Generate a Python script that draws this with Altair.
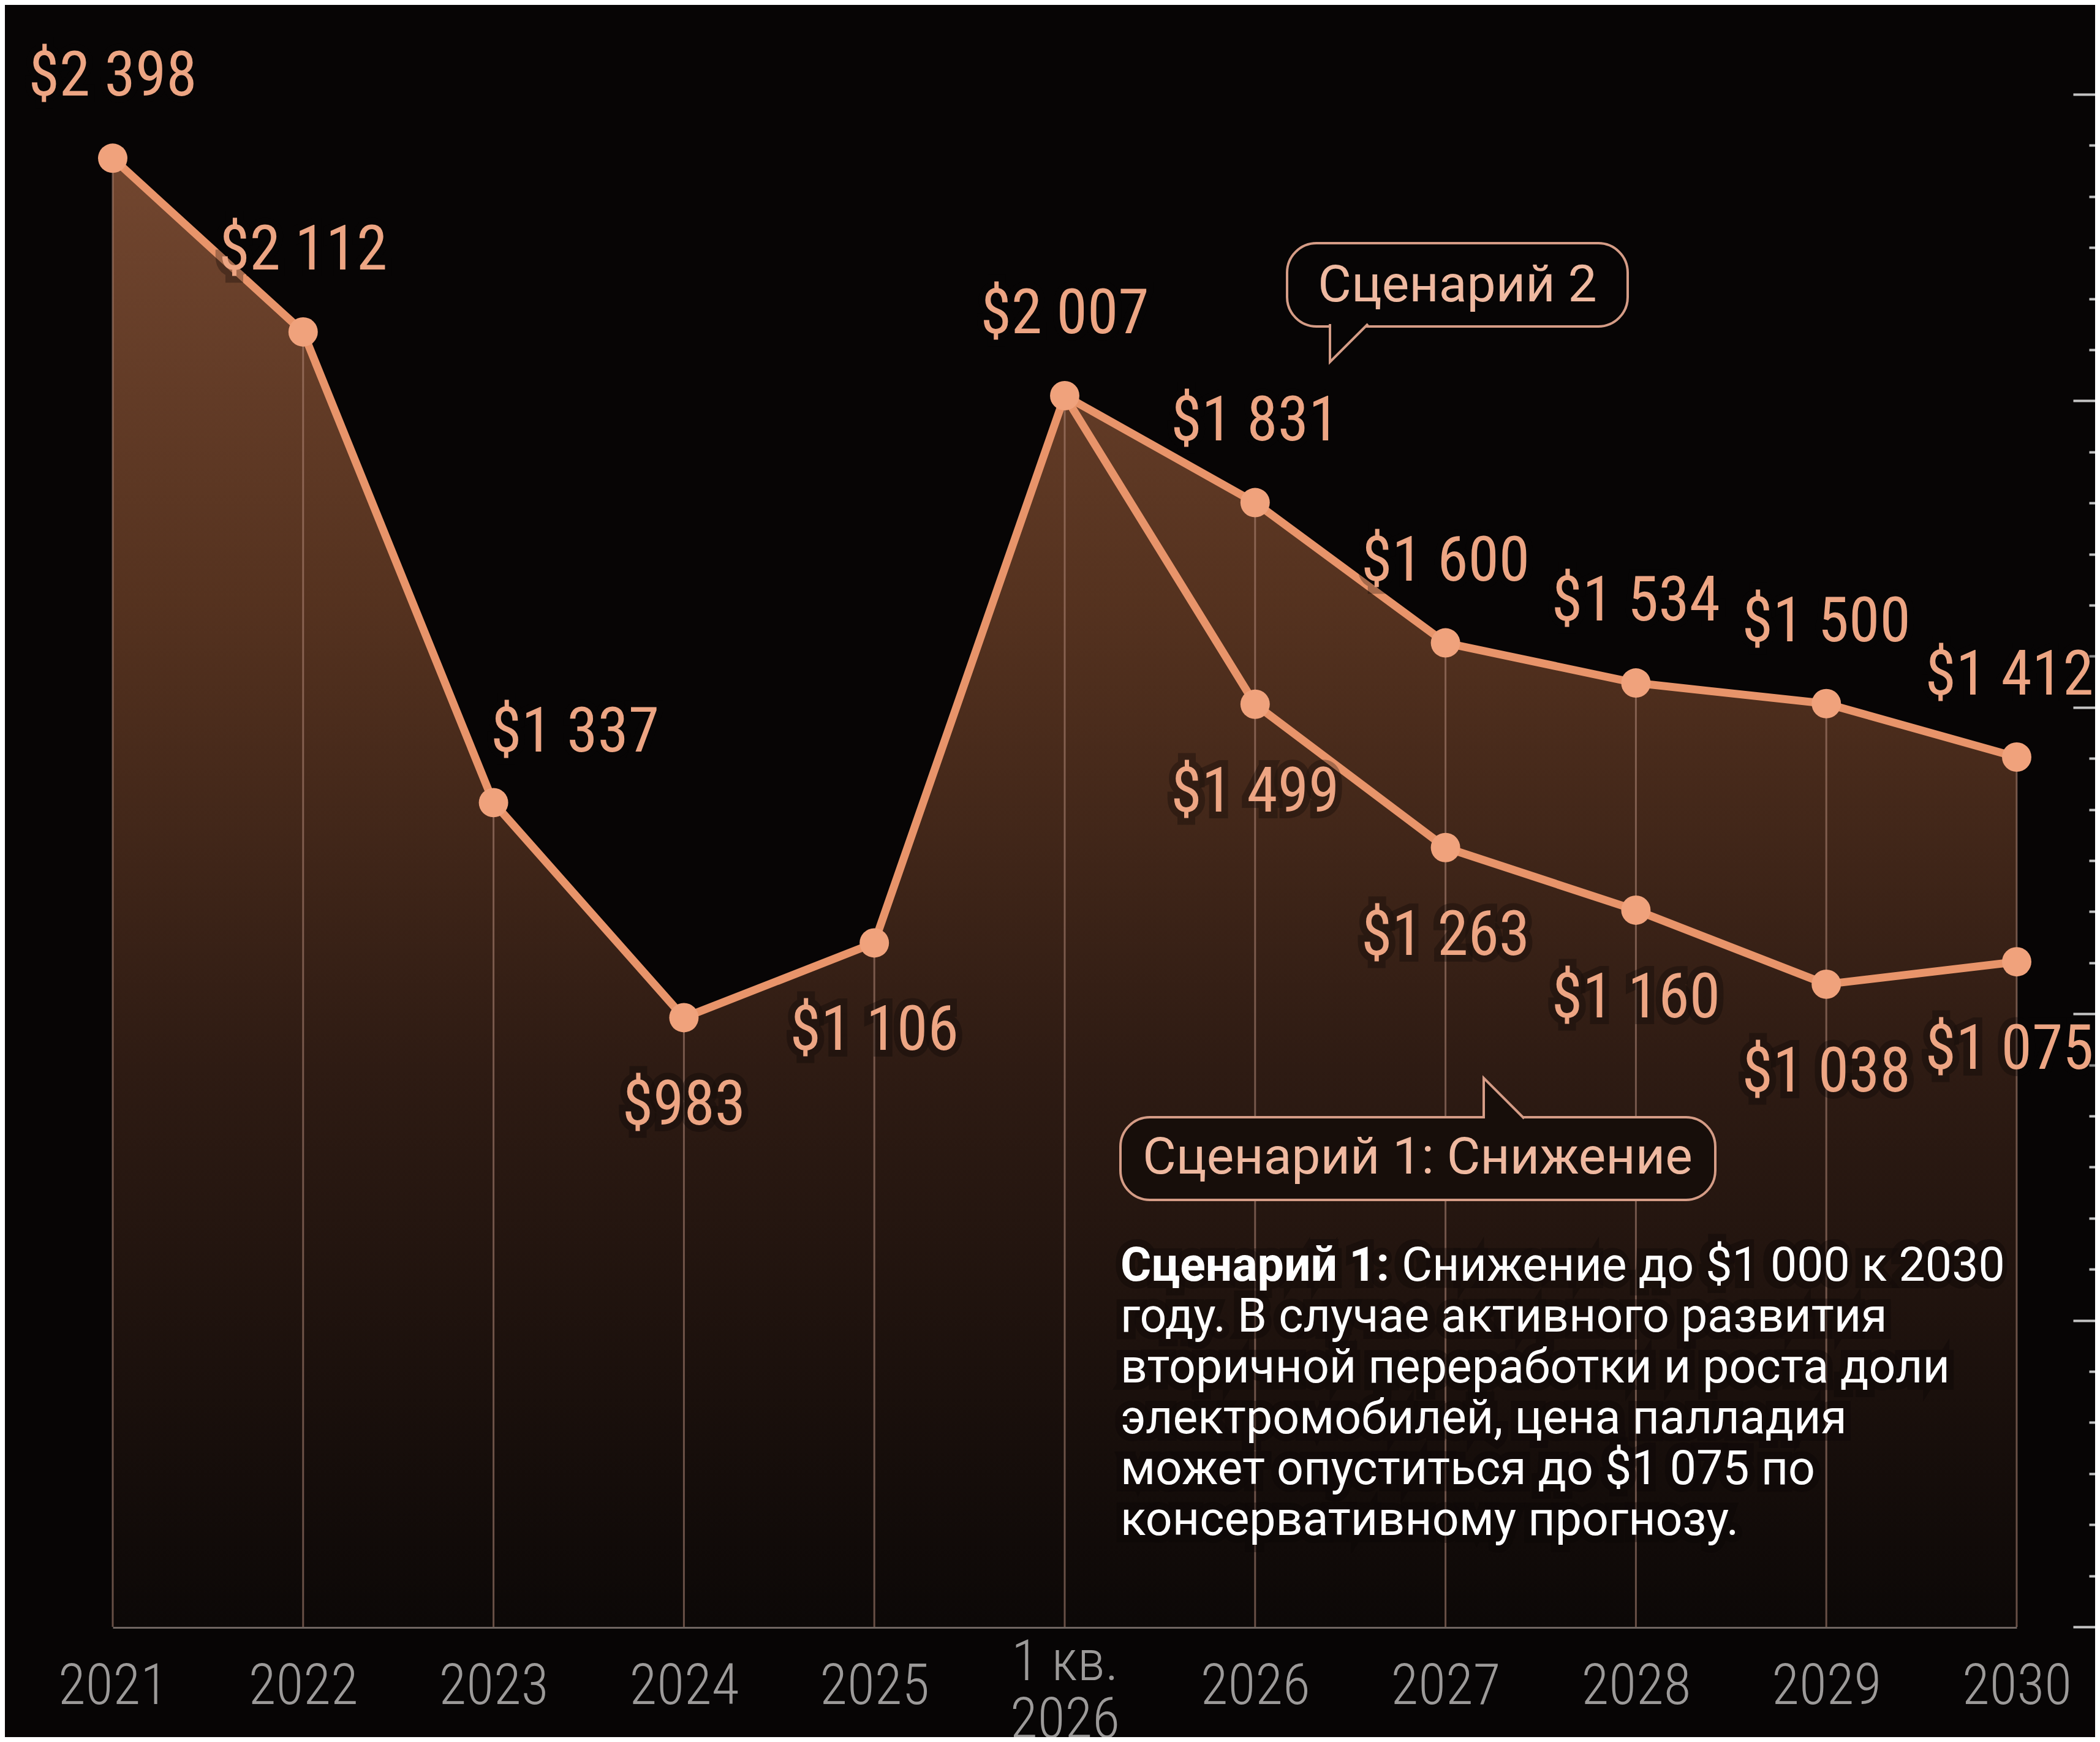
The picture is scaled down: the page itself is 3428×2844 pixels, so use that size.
import altair as alt
import pandas as pd

# ---------------- data ----------------
x_labels = ["2021", "2022", "2023", "2024", "2025", "1 кв.\n2026",
            "2026", "2027", "2028", "2029", "2030"]
history = [2398, 2112, 1337, 983, 1106, 2007]          # 2021 .. 1 кв. 2026
scenario2 = [1831, 1600, 1534, 1500, 1412]             # 2026 .. 2030
scenario1 = [1499, 1263, 1160, 1038, 1075]             # 2026 .. 2030
history_label_side = ["top", "top", "right", "bottom", "bottom", "top"]

bubble2_text = "Сценарий 2"
bubble1_text = "Сценарий 1: Снижение"
note_bold = "Сценарий 1:"
note_first = "Снижение до $1 000 к 2030"
note_lines = ["году. В случае активного развития",
              "вторичной переработки и роста доли",
              "электромобилей, цена палладия",
              "может опуститься до $1 075 по",
              "консервативному прогнозу."]

# ---------------- tables ----------------
n_hist = len(history)
fc_x = x_labels[n_hist:]
last_x = x_labels[-1]

env = pd.DataFrame({"x": x_labels, "v": history + scenario2, "i": list(range(len(x_labels)))})

lines = pd.concat([
    pd.DataFrame({"x": x_labels, "v": history + scenario2, "i": list(range(len(x_labels))), "s": "s2"}),
    pd.DataFrame({"x": [x_labels[n_hist - 1]] + fc_x, "v": [history[-1]] + scenario1,
                  "i": list(range(n_hist - 1, len(x_labels))), "s": "s1"}),
])

def fmt(v):
    return "$" + f"{v:,}".replace(",", " ")

pts = pd.concat([
    pd.DataFrame({"x": x_labels[:n_hist], "v": history, "side": history_label_side}),
    pd.DataFrame({"x": fc_x, "v": scenario2, "side": "top"}),
    pd.DataFrame({"x": fc_x, "v": scenario1, "side": "bottom"}),
])
pts["label"] = pts["v"].map(fmt)
pts["edge"] = pts["x"] == last_x

ticks_df = pd.DataFrame({"t": list(range(31))})
one = pd.DataFrame({"k": [0]})

# ---------------- style ----------------
W, H = 3108, 2598
Y_MIN, Y_MAX = -20, 2600
LINE = "#e8946a"
DOT = "#f0a27c"
LABEL = "#eda583"
BUBBLE_STROKE = "#d59c86"
BUBBLE_TEXT = "#efb9a0"
BG = "#070505"
NUM_FONT = "Roboto Condensed, Liberation Sans Narrow, DejaVu Sans Condensed, sans-serif"
TXT_FONT = "Roboto, Noto Sans, sans-serif"
VAL_SIZE = 102

x_axis = alt.Axis(
    title=None, ticks=False, tickSize=0, grid=False,
    domainColor="#6f6561", domainWidth=5,
    labelColor="#9c9a99", labelFont=NUM_FONT, labelFontSize=92, labelFontWeight=300,
    labelBaseline="middle", labelLineHeight=94,
    labelPadding={"condition": {"test": "indexof(datum.label, '\\n') >= 0", "value": 58},
                  "value": 97},
    labelAngle=0, labelExpr="split(datum.label, '\\n')", labelOverlap=False,
    labelLimit=0,
)
X = alt.X("x:O", scale=alt.Scale(type="point", domain=x_labels, padding=0), axis=x_axis)
Y = alt.Y("v:Q", scale=alt.Scale(domain=[Y_MIN, Y_MAX], nice=False, zero=False), axis=None)

grad = alt.Gradient(
    gradient="linear",
    stops=[alt.GradientStop(color="#72462f", offset=0),
           alt.GradientStop(color="#55321f", offset=0.3),
           alt.GradientStop(color="#2e1b13", offset=0.62),
           alt.GradientStop(color="#0c0807", offset=1)],
    x1=0, x2=0, y1=0, y2=1,
)

area = alt.Chart(env).mark_area(fill=grad, fillOpacity=1, interpolate="linear").encode(
    x=X, y=Y, y2=alt.datum(Y_MIN))

rules = alt.Chart(env).mark_rule(color="#b48b7a", strokeWidth=3, opacity=0.55).encode(
    x=X, y=Y, y2=alt.datum(Y_MIN))

line = alt.Chart(lines).mark_line(color=LINE, strokeWidth=13, strokeCap="round",
                                  strokeJoin="round").encode(
    x=X, y=Y, detail="s:N", order="i:Q")

dots = alt.Chart(pts).mark_circle(size=2300, color=DOT, opacity=1).encode(x=X, y=Y)

def labels(side, edge, dx, dy):
    base = alt.Chart(pts).transform_filter(
        (alt.datum.side == side) & (alt.datum.edge == edge))
    halo = base.mark_text(font=NUM_FONT, fontSize=VAL_SIZE, baseline="middle", align="center",
                          dx=dx, dy=dy, color=BG, stroke=BG, strokeWidth=22,
                          opacity=0.55, strokeOpacity=0.55).encode(x=X, y=Y, text="label:N")
    txt = base.mark_text(font=NUM_FONT, fontSize=VAL_SIZE, baseline="middle", align="center",
                         dx=dx, dy=dy, color=LABEL).encode(x=X, y=Y, text="label:N")
    return [halo, txt]

label_layers = (labels("top", False, 0, -133) + labels("bottom", False, 0, 144)
                + labels("right", False, 133, -114)
                + labels("top", True, -12, -133) + labels("bottom", True, -12, 144))

# ---------------- bubbles ----------------
def bubble(x1, x2, y1, y2, fill, text, tcx, tcy, tail_cx, tail_cy, tail_size, tail_path):
    box = alt.Chart(one).mark_rect(fill=fill, stroke=BUBBLE_STROKE, strokeWidth=4,
                                   cornerRadius=48).encode(
        x=alt.value(x1), x2=alt.value(x2), y=alt.value(y1), y2=alt.value(y2))
    tail = alt.Chart(one).mark_point(shape=tail_path, size=tail_size, filled=True,
                                     fill=fill, fillOpacity=1, stroke=BUBBLE_STROKE,
                                     strokeWidth=4, opacity=1).encode(
        x=alt.value(tail_cx), y=alt.value(tail_cy))
    t = alt.Chart(one).mark_text(text=text, font=TXT_FONT, fontSize=84, color=BUBBLE_TEXT,
                                 align="center", baseline="middle").encode(
        x=alt.value(tcx), y=alt.value(tcy))
    return [box, tail, t]

b2 = bubble(1917, 2473, 339, 475, BG, bubble2_text, 2195, 409,
            2018, 502, 3844, "M -1,-1 L -1,1 L 1,-1")
b1 = bubble(1645, 2616, 1766, 1901, "#170e0a", bubble1_text, 2130, 1833,
            2271, 1735, 4356, "M -1,1 L -1,-1 L 1,1")

# ---------------- note ----------------
NOTE_SIZE = 77
note_halo = alt.Chart(one).mark_text(text=[note_bold + "  " + note_first] + note_lines,
                                     font=TXT_FONT, fontSize=NOTE_SIZE, lineHeight=83,
                                     align="left", baseline="alphabetic", color="#0b0706",
                                     stroke="#0b0706", strokeWidth=24, opacity=0.6,
                                     strokeOpacity=0.6).encode(
    x=alt.value(1645), y=alt.value(2033))
note_b = alt.Chart(one).mark_text(text=note_bold, font=TXT_FONT, fontSize=NOTE_SIZE,
                                  fontWeight="bold", align="left", baseline="alphabetic",
                                  color="#ffffff").encode(x=alt.value(1645), y=alt.value(2033))
note_r1 = alt.Chart(one).mark_text(text=note_first, font=TXT_FONT, fontSize=NOTE_SIZE,
                                   align="left", baseline="alphabetic",
                                   color="#ffffff").encode(x=alt.value(2104), y=alt.value(2033))
note_rest = alt.Chart(one).mark_text(text=note_lines, font=TXT_FONT, fontSize=NOTE_SIZE,
                                     lineHeight=83, align="left", baseline="alphabetic",
                                     color="#ffffff").encode(x=alt.value(1645), y=alt.value(2033 + 83))

main = alt.layer(area, rules, line, dots, *label_layers, *b2, *b1,
                 note_halo, note_b, note_r1, note_rest)

# decorative scale ticks on the right edge
ticks = alt.Chart(ticks_df).mark_point(opacity=0).encode(
    y=alt.Y("t:Q", scale=alt.Scale(domain=[0, 31.15], nice=False, zero=False),
            axis=alt.Axis(orient="left", offset=-3236, values=list(range(31)),
                          labels=False, domain=False, grid=False, title=None,
                          tickColor="#c4c4c4", tickWidth=4,
                          tickSize={"condition": {"test": "datum.value % 6 === 0", "value": 36},
                                    "value": 10})))

chart = alt.layer(main, ticks).resolve_scale(y="independent").properties(
    width=W, height=H,
    padding={"left": 176, "top": 50, "right": 128, "bottom": 180},
    autosize=alt.AutoSizeParams(type="none"),
    background=BG,
).configure_view(stroke=None)

chart.save("out.html", embed_options={"renderer": "svg", "actions": False})
